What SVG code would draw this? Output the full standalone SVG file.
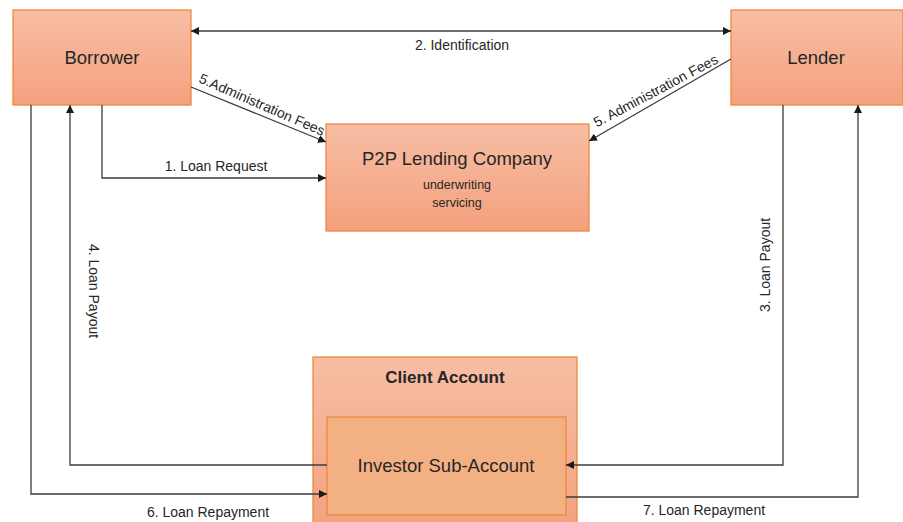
<svg xmlns="http://www.w3.org/2000/svg" width="903" height="522" viewBox="0 0 903 522">
<defs>
<linearGradient id="g" x1="0" y1="0" x2="0" y2="1">
<stop offset="0" stop-color="#f7bea4"/>
<stop offset="1" stop-color="#f4a17d"/>
</linearGradient>
<marker id="ah" viewBox="0 0 10 10" refX="10" refY="5" markerWidth="8" markerHeight="8" markerUnits="userSpaceOnUse" orient="auto-start-reverse">
<path d="M0,0 L10,5 L0,10 z" fill="#1a1a1a"/>
</marker>
<style>
.box{fill:url(#g);stroke:#f0883f;stroke-width:1.3}
.inner{fill:#f3b083;stroke:#f0883f;stroke-width:1.3}
.t{font-family:"Liberation Sans",Arial,sans-serif;fill:#262626;text-anchor:middle}
.c{fill:none;stroke:#3c3c3c;stroke-width:1.3}
.a{marker-end:url(#ah)}
.lbl{font-family:"Liberation Sans",Arial,sans-serif;font-size:14px;fill:#262626;text-anchor:middle}
</style>
</defs>
<rect width="903" height="522" fill="#ffffff"/>
<g id="borrower">
<rect class="box" x="13" y="10" width="178" height="95"/>
<text class="t" x="102" y="64" font-size="18.5">Borrower</text>
</g>
<g id="lender">
<rect class="box" x="731" y="10" width="172" height="95"/>
<text class="t" x="816" y="64" font-size="18.5">Lender</text>
</g>
<g id="p2p">
<rect class="box" x="326" y="124" width="263" height="107"/>
<text class="t" x="457" y="165" font-size="18.5">P2P Lending Company</text>
<text class="t" x="457" y="189" font-size="12.5">underwriting</text>
<text class="t" x="457" y="207" font-size="12.5">servicing</text>
</g>
<g id="client-account">
<rect class="box" x="313" y="357" width="264" height="175"/>
<text class="t" x="445" y="383" font-size="17" font-weight="bold">Client Account</text>
</g>
<g id="investor-sub-account">
<rect class="inner" x="327" y="417" width="239" height="98"/>
<text class="t" x="446" y="472" font-size="18.5">Investor Sub-Account</text>
</g>
<g id="connectors">
<path class="c a" d="M191,31 H731" marker-start="url(#ah)"/>
<path class="c a" d="M191,87 L326,142"/>
<path class="c a" d="M731,59 L589,141"/>
<path class="c a" d="M102,105 V178 H326"/>
<path class="c a" d="M327,465 H70 V105"/>
<path class="c a" d="M31,105 V494 H327"/>
<path class="c a" d="M783,105 V465 H566"/>
<path class="c a" d="M566,497 H858 V105"/>
<text class="lbl" x="462" y="50">2. Identification</text>
<text class="lbl" transform="translate(260,109) rotate(23.5)" x="0" y="0">5.Administration Fees</text>
<text class="lbl" transform="translate(658,95) rotate(-28)" x="0" y="0">5. Administration Fees</text>
<text class="lbl" x="216" y="171">1. Loan Request</text>
<text class="lbl" transform="translate(89,291) rotate(90)" x="0" y="0">4. Loan Payout</text>
<text class="lbl" transform="translate(770,265) rotate(-90)" x="0" y="0">3. Loan Payout</text>
<text class="lbl" x="208" y="517">6. Loan Repayment</text>
<text class="lbl" x="704" y="515">7. Loan Repayment</text>
</g>
</svg>
